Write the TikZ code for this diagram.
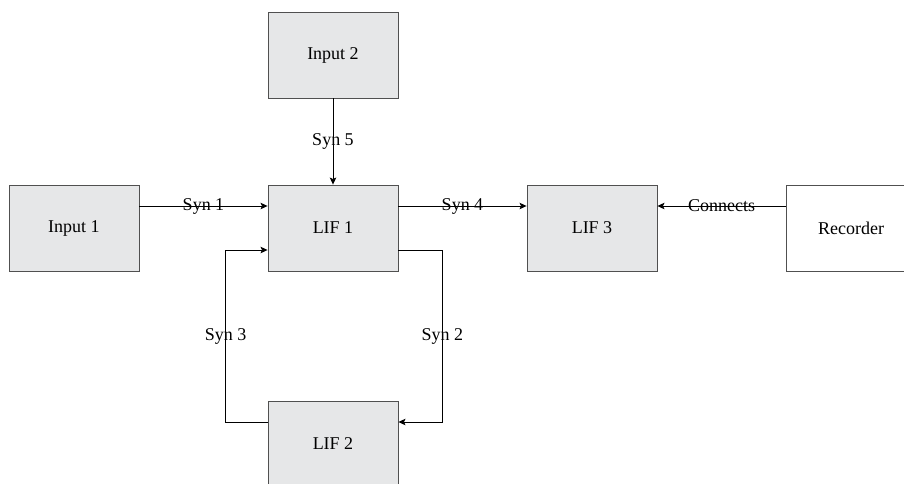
\documentclass[tikz,border=0pt]{standalone}
\usepackage{fontspec}
\setmainfont{Liberation Serif}
\usetikzlibrary{arrows.meta, positioning}
\definecolor{boxfill}{HTML}{E6E7E8}
\definecolor{boxline}{HTML}{505050}
\tikzset{x = 1pt, y = 1pt,
	 node distance = 259pt, on grid,
	 block/.style = {draw = boxline, line width = 0.9pt, fill = boxfill,
			 minimum width = 130pt, minimum height = 86pt,
			 inner sep = 0pt, font = \fontsize{18}{21}\selectfont},
	 recbox/.style = {block, fill = white},
	 syn/.style = {-{Stealth[length = 7pt, width = 6.5pt, inset = 1.5pt]},
		       line width = 0.8pt},
	 synlabel/.style = {font = \fontsize{18}{21}\selectfont, inner sep = 0pt}}

\begin{document}
\begin{tikzpicture}
      \useasboundingbox (-333, 228) rectangle (571, -255);
      \node [block] (lif1) at (0, 0) {LIF 1};
      \node [block] (in1) [left = of lif1] {Input 1};
      \node [block] (lif3) [right = of lif1] {LIF 3};
      \node [recbox] (rec) [right = of lif3] {Recorder};
      \node [block] (in2) [above = 173pt of lif1] {Input 2};
      \node [block] (lif2) [below = 216pt of lif1] {LIF 2};
      \draw [syn] ([yshift = 22pt]in1.east) -- node [synlabel] {Syn 1}
		  ([yshift = 22pt]lif1.west);
      \draw [syn] ([yshift = 22pt]lif1.east) -- node [synlabel] {Syn 4}
		  ([yshift = 22pt]lif3.west);
      \draw [syn] ([yshift = 22pt]rec.west) -- node [synlabel] {Connects}
		  ([yshift = 22pt]lif3.east);
      \draw [syn] (in2) -- node [synlabel] {Syn 5} (lif1);
      \draw [syn] ([yshift = -22pt]lif1.east) -- ++(44, 0)
		  |- node [synlabel, pos = 0.25] {Syn 2} ([yshift = 22pt]lif2.east);
      \draw [syn] ([yshift = 22pt]lif2.west) -- ++(-42, 0)
		  |- node [synlabel, pos = 0.25] {Syn 3} ([yshift = -22pt]lif1.west);
\end{tikzpicture}
\end{document}
